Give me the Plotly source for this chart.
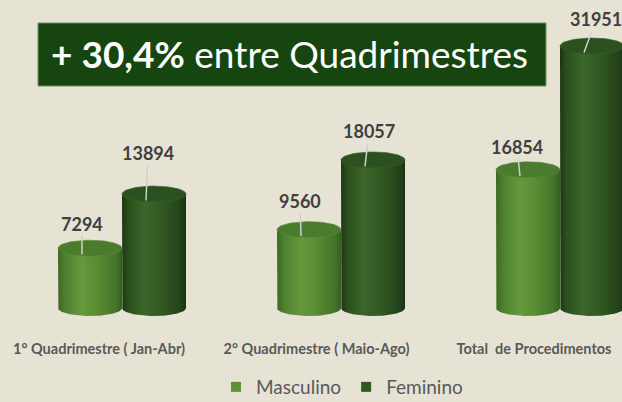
import numpy as np
import plotly.graph_objects as go

# ---------------- data ----------------
categories = ["1° Quadrimestre ( Jan-Abr)", "2° Quadrimestre ( Maio-Ago)", "Total  de Procedimentos"]
series_names = ["Masculino", "Feminino"]
masculino = [7294, 9560, 16854]
feminino = [13894, 18057, 31951]
headline_bold = "+ 30,4%"
headline_rest = " entre Quadrimestres"

# ---------------- style / layout ----------------
W, H = 622, 402
BG = "#e6e3d4"
FONT = "Lato"
PX_X = 219.0                     # pixels per group on the x axis
XR = [-122 / PX_X, (W - 122) / PX_X]
BASE_PX, PY = 308, 0.0082        # baseline pixel row, px per value unit
YR = [-(H - BASE_PX) / PY, BASE_PX / PY]
Y_PER_PX = (YR[1] - YR[0]) / H

A = 32 / PX_X                    # cylinder half width (x units)
B = 8 * Y_PER_PX                 # ellipse half height (y units)
OFFS = [-A, A]

GRADS = [
    [[0, "#3c6822"], [0.12, "#4f8230"], [0.38, "#66993c"], [0.6, "#5a8c34"], [0.9, "#447529"], [1, "#355e1e"]],
    [[0, "#1c3713"], [0.1, "#2b4f1d"], [0.35, "#3b6629"], [0.6, "#325a23"], [0.9, "#24431a"], [1, "#1a3312"]],
]
TOPS = ["#4b7c2d", "#2c5120"]
LEG_COLORS = ["#5a9235", "#2e5a1f"]
# label offsets (px) relative to the leader-line end, per series / group
LABEL_OFF = [[(0, -31), (-1, -35), (-3, -29)], [(2, -47), (4, -35), (12, -33)]]

series_vals = [masculino, feminino]

fig = go.Figure()

t_full = np.linspace(0, 2 * np.pi, 80)
t_front = np.linspace(np.pi, 2 * np.pi, 40)

annotations = []
for g in range(len(categories)):
    for s, vals in enumerate(series_vals):
        v = vals[g]
        cx = g + OFFS[s]
        # body
        xs = [cx - A] + list(cx + A * np.cos(t_front)) + [cx + A, cx - A]
        ys = [v] + list(B * np.sin(t_front)) + [v, v]
        fig.add_trace(go.Scatter(
            x=xs, y=ys, fill="toself", mode="lines", line=dict(width=0),
            fillgradient=dict(type="horizontal", colorscale=GRADS[s]),
            hoverinfo="skip", showlegend=False))
        # top
        fig.add_trace(go.Scatter(
            x=list(cx + A * np.cos(t_full)), y=list(v + B * np.sin(t_full)),
            fill="toself", fillcolor=TOPS[s], mode="lines",
            line=dict(width=0.6, color="#5d8a40" if s == 0 else "#3a6029"),
            hoverinfo="skip", showlegend=False))
        dx, dy = LABEL_OFF[s][g]
        annotations.append(dict(
            x=cx - 8 / PX_X, y=v - 0.8 * B, xref="x", yref="y",
            text=f"<b>{v}</b>", showarrow=True, arrowhead=0, arrowwidth=1.5,
            arrowcolor="#cfcfcf", ax=dx, ay=dy, standoff=0,
            font=dict(family=FONT, size=18, color="#404040")))

# legend entries
for s, name in enumerate(series_names):
    fig.add_trace(go.Scatter(
        x=[None], y=[None], mode="markers", name=name,
        marker=dict(symbol="square", size=10, color=LEG_COLORS[s])))

# category axis carrier
fig.add_trace(go.Scatter(
    x=categories, y=[0] * len(categories), xaxis="x2", mode="markers",
    marker=dict(opacity=0), hoverinfo="skip", showlegend=False))

# headline box
fig.add_shape(type="rect", xref="paper", yref="paper",
              x0=38 / W, x1=546 / W, y0=1 - 86 / H, y1=1 - 23 / H,
              fillcolor="#174510", line=dict(color="#6f8f58", width=1), layer="above")
annotations.append(dict(
    x=289 / W, y=1 - 53 / H, xref="paper", yref="paper", showarrow=False,
    text=f"<b>{headline_bold}</b>{headline_rest}",
    font=dict(family=FONT, size=37, color="#ffffff"), xanchor="center", yanchor="middle"))

fig.update_layout(
    width=W, height=H, autosize=False,
    margin=dict(l=0, r=0, t=0, b=0, autoexpand=False),
    paper_bgcolor=BG, plot_bgcolor=BG,
    font=dict(family=FONT),
    xaxis=dict(range=XR, visible=False, fixedrange=True),
    xaxis2=dict(type="category", overlaying="x", anchor="free", position=1 - 338 / H,
                side="bottom", range=[-99 / 217.5, (W - 99) / 217.5],
                showgrid=False, zeroline=False, showline=False, ticks="",
                tickfont=dict(family=FONT, size=14.5, color="#595959", weight="bold")),
    yaxis=dict(range=YR, visible=False, fixedrange=True),
    showlegend=True,
    legend=dict(orientation="h", x=216 / W, xanchor="left", y=-4 / H, yanchor="bottom",
                bgcolor="rgba(0,0,0,0)", font=dict(family=FONT, size=19, color="#595959"),
                itemwidth=30),
    annotations=annotations,
)

fig.write_html("out.html")
